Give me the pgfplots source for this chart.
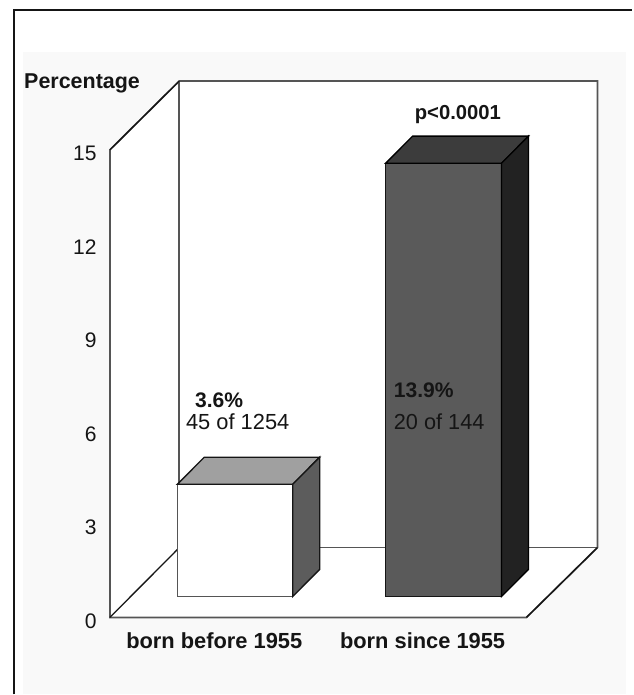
\documentclass[border=0pt]{standalone}
\usepackage{fontspec}
\setmainfont{Liberation Sans}
\usepackage{pgfplots}
\pgfplotsset{compat=1.18}

\definecolor{panel}{HTML}{F9F9F9}
\definecolor{wall}{HTML}{555555}
\definecolor{ink}{HTML}{151515}

\begin{document}
\begin{tikzpicture}
% x runs in reference pixels, y in percent; 1 px = 0.75 pt
\begin{axis}[
    scale only axis,
    width=312.75pt,
    height=351pt,
    xmin=110, xmax=527,
    ymin=0, ymax=15,
    clip=false,
    axis on top,
    axis line style={draw=none},
    major tick length=0pt,
    ytick={0,3,6,9,12,15},
    xtick={214.5,423},
    xticklabels={born before 1955,born since 1955},
    /pgf/number format/assume math mode=true,
    yticklabel style={font=\fontsize{15.8}{18}\selectfont, text=ink, inner sep=0pt, xshift=-9.75pt, yshift=-2.6pt},
    xticklabel style={font=\fontsize{16.4}{19}\bfseries, text=ink, inner sep=0pt, yshift=-11.5pt},
]
% page and panel
\addplot[fill=white, draw=none] coordinates {(0,-2.468) (633,-2.468) (633,19.808) (0,19.808)} -- cycle;
\addplot[fill=panel, draw=none] coordinates {(23,-2.468) (627,-2.468) (627,18.14) (23,18.14)} -- cycle;
\addplot[draw=ink, line width=1pt] coordinates {(14,-2.468) (14,19.487) (633,19.487)};

% walls and floor
\addplot[fill=white, draw=wall, line width=1.3pt] coordinates {(110,0) (110,15) (179.5,17.21) (598,17.21) (598,2.24) (527,0)} -- cycle;
\addplot[draw=wall, line width=1.3pt] coordinates {(179.5,17.21) (179.5,2.24) (598,2.24)};
\addplot[draw=ink, line width=1pt] coordinates {(110,0) (179.5,2.24)};
\addplot[draw=ink, line width=1pt] coordinates {(110,15) (179.5,17.21)};
\addplot[draw=ink, line width=1pt] coordinates {(527,0) (598,2.24)};

% born before 1955: base 0.67, value 3.6
\addplot[fill=white, draw=wall, line width=1pt] coordinates {(177.5,0.67) (293,0.67) (293,4.27) (177.5,4.27)} -- cycle;
\addplot[fill={rgb,255:red,160;green,160;blue,160}, draw=ink, line width=1pt] coordinates {(177.5,4.27) (293,4.27) (320,5.14) (204.5,5.14)} -- cycle;
\addplot[fill={rgb,255:red,92;green,92;blue,92}, draw=ink, line width=1pt] coordinates {(293,0.67) (320,1.54) (320,5.14) (293,4.27)} -- cycle;

% born since 1955: base 0.67, value 13.9
\addplot[fill={rgb,255:red,90;green,90;blue,90}, draw=ink, line width=1pt] coordinates {(386,0.67) (502,0.67) (502,14.57) (386,14.57)} -- cycle;
\addplot[fill={rgb,255:red,60;green,60;blue,60}, draw=black, line width=1pt] coordinates {(386,14.57) (502,14.57) (529,15.44) (413,15.44)} -- cycle;
\addplot[fill={rgb,255:red,34;green,34;blue,34}, draw=black, line width=1pt] coordinates {(502,0.67) (529,1.54) (529,15.44) (502,14.57)} -- cycle;

% text
\node[anchor=base west, inner sep=0pt, text=ink, font=\fontsize{16.1}{19}\bfseries] at (axis cs:24,16.96) {Percentage};
\node[anchor=base west, inner sep=0pt, text=ink, font=\fontsize{15.2}{18}\bfseries] at (axis cs:415,15.98) {p<0.0001};
\node[anchor=base west, inner sep=0pt, text=ink, font=\fontsize{15.8}{19}\bfseries] at (axis cs:195,6.74) {3.6\%};
\node[anchor=base west, inner sep=0pt, text=ink, font=\fontsize{16.4}{19}\selectfont] at (axis cs:186,6.03) {45 of 1254};
\node[anchor=base west, inner sep=0pt, text=ink, font=\fontsize{15.8}{19}\bfseries] at (axis cs:394,7.05) {13.9\%};
\node[anchor=base west, inner sep=0pt, text=ink, font=\fontsize{16.3}{19}\selectfont] at (axis cs:394,6.03) {20 of 144};
\end{axis}
\end{tikzpicture}
\end{document}
